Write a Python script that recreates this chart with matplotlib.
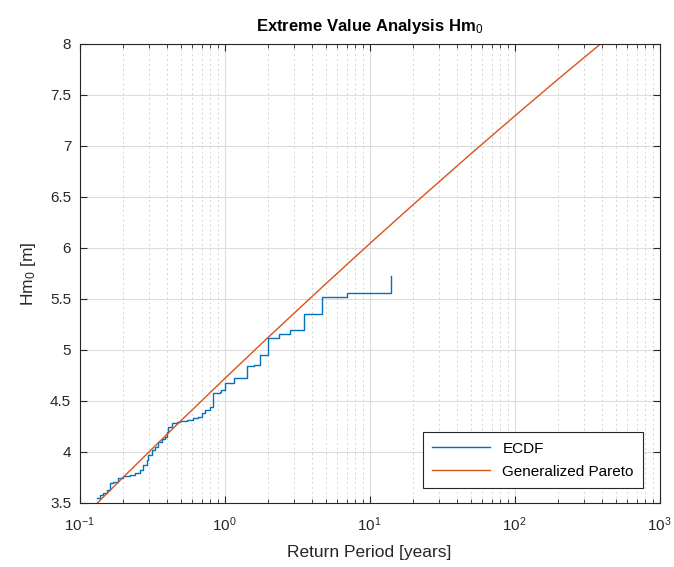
# import libraries
import matplotlib
matplotlib.use('Agg')
import matplotlib.pyplot as plt
from matplotlib.ticker import LogLocator, NullFormatter

# fonts (MATLAB-like look)
plt.rcParams['font.family'] = ['Liberation Sans', 'DejaVu Sans']
plt.rcParams['mathtext.fontset'] = 'custom'
plt.rcParams['mathtext.rm'] = 'Liberation Sans'
plt.rcParams['mathtext.it'] = 'Liberation Sans:italic'
plt.rcParams['mathtext.bf'] = 'Liberation Sans:bold'

# empirical CDF (return period [years], Hm0 [m]) - step corners
ecdfPeriod = [0.131, 0.138, 0.146, 0.154, 0.162, 0.171, 0.185, 0.200, 0.223, 0.241,
              0.261, 0.275, 0.291, 0.298, 0.315, 0.332, 0.350, 0.369, 0.389, 0.403,
              0.410, 0.432, 0.468, 0.493, 0.549, 0.609, 0.660, 0.696, 0.734, 0.794,
              0.829, 0.931, 0.951, 1.008, 1.16, 1.42, 1.60, 1.76, 2.00, 2.38,
              2.83, 3.53, 4.68, 6.96, 14.07]
ecdfHm0 = [3.546, 3.578, 3.595, 3.627, 3.693, 3.709, 3.742, 3.765, 3.775, 3.791,
           3.824, 3.873, 3.922, 3.971, 4.020, 4.052, 4.101, 4.125, 4.150, 4.199,
           4.248, 4.281, 4.297, 4.307, 4.314, 4.330, 4.346, 4.379, 4.412, 4.444,
           4.575, 4.591, 4.608, 4.680, 4.730, 4.840, 4.855, 4.955, 5.115, 5.157,
           5.196, 5.353, 5.523, 5.562, 5.725]

# fitted generalized pareto return levels
gpPeriod = [0.13, 0.15, 0.2, 0.3, 0.5, 1, 2, 5, 10, 20, 50, 100, 200, 500]
gpHm0 = [3.487, 3.575, 3.752, 3.998, 4.306, 4.718, 5.124, 5.650, 6.041, 6.425,
         6.923, 7.292, 7.656, 8.125]

# axis ticks
yTicks = [3.5, 4, 4.5, 5, 5.5, 6, 6.5, 7, 7.5, 8]
yTickLabels = ['3.5', '4', '4.5', '5', '5.5', '6', '6.5', '7', '7.5', '8']

# create plot
fig = plt.figure(figsize=(6.74, 5.67), dpi=100)
ax = fig.add_axes([0.118, 0.1129, 0.8605, 0.8095])

ax.step(ecdfPeriod, ecdfHm0, where='post', color='#0072BD', lw=1.0, label='ECDF')
ax.plot(gpPeriod, gpHm0, color='#D95319', lw=1.0, label='Generalized Pareto')

# axes ranges
ax.set_xscale('log')
ax.set_xlim(1e-1, 1e3)
ax.set_ylim(3.5, 8)
ax.set_yticks(yTicks)
ax.set_yticklabels(yTickLabels)
ax.xaxis.set_minor_locator(LogLocator(base=10, subs=range(2, 10), numticks=20))
ax.xaxis.set_minor_formatter(NullFormatter())

# grid
ax.grid(True, which='major', color='#dcdcdc', lw=0.8, ls='-')
ax.grid(True, which='minor', axis='x', color='#d4d4d4', lw=0.7, ls=(0, (2, 3)))
ax.set_axisbelow(True)

# ticks and spines
ax.tick_params(which='both', direction='in', top=True, right=True,
               colors='#262626', labelsize=11)
ax.tick_params(which='major', length=5, width=0.8)
ax.tick_params(which='minor', length=3, width=0.6)
ax.tick_params(axis='x', which='major', pad=9)
ax.tick_params(axis='y', which='major', pad=6)
for s in ax.spines.values():
    s.set_color('#262626')
    s.set_linewidth(0.8)

# set titles
ax.set_title('Extreme Value Analysis Hm$_0$', fontsize=12, fontweight='bold',
             color='black', pad=9)
ax.set_xlabel('Return Period [years]', fontsize=12.5, color='#262626', labelpad=8)
ax.set_ylabel('Hm$_0$ [m]', fontsize=12.5, color='#262626', labelpad=9)

leg = ax.legend(loc='lower right', fontsize=11, fancybox=False, framealpha=1,
                edgecolor='#262626', handlelength=3.8, labelspacing=0.6,
                borderpad=0.6, borderaxespad=0, bbox_to_anchor=(0.9716, 0.0327))
leg.get_frame().set_linewidth(0.8)

fig.savefig('out.png', dpi=100)
